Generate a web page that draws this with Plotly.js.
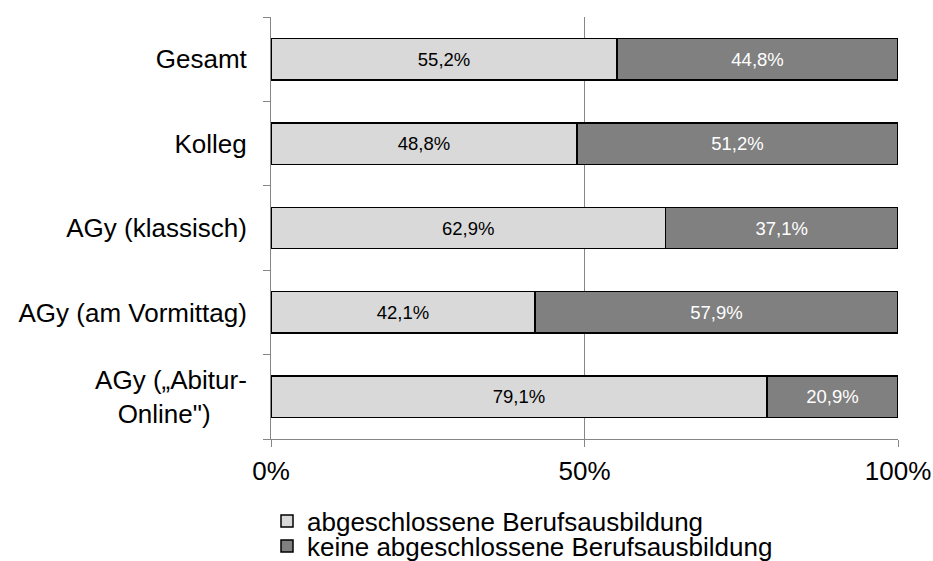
<!DOCTYPE html>
<html><head><meta charset="utf-8">
<script src="https://cdn.plot.ly/plotly-3.0.1.min.js"></script>
<style>html,body{margin:0;padding:0;background:#fff;}#chart{width:933px;height:561px;}</style>
</head><body><div id="chart"></div>
<script>
const categories = ["Gesamt", "Kolleg", "AGy (klassisch)", "AGy (am Vormittag)", "AGy („Abitur-<br>Online\")"];
const seriesNames = ["abgeschlossene Berufsausbildung", "keine abgeschlossene Berufsausbildung"];
const abgeschlossen = [55.2, 48.8, 62.9, 42.1, 79.1];
const keine = [44.8, 51.2, 37.1, 57.9, 20.9];
const xTicks = [0, 50, 100];
const xTickLabels = ["0%", "50%", "100%"];

// display labels: visually centre the second line of wrapped labels
const catLabels = categories.map(c => c.includes('<br>') ? c + '\u00A0\u00A0\u00A0\u00A0\u00A0' : c);

const font = "Liberation Sans, Arial, sans-serif";
const traces = [
  {type:'bar', orientation:'h', name:seriesNames[0], y:categories, x:abgeschlossen, legend:'legend',
   marker:{color:'#D9D9D9', line:{color:'#000', width:1.5}},
   texttemplate:'%{x:.1f}%', textposition:'inside', insidetextanchor:'middle',
   textfont:{family:font, size:18.5, color:'#000'}, hoverinfo:'none'},
  {type:'bar', orientation:'h', name:seriesNames[1], y:categories, x:keine, legend:'legend2',
   marker:{color:'#808080', line:{color:'#000', width:1.5}},
   texttemplate:'%{x:.1f}%', textposition:'inside', insidetextanchor:'middle',
   textfont:{family:font, size:18.5, color:'#fff'}, hoverinfo:'none'}
];
const T = 17, B = 439, L = 271, R = 898, W = 933, H = 561;
const ph = B - T, pw = R - L;
const legX = (267 - L) / pw;
const layout = {
  width:W, height:H, barmode:'stack', bargap:0.51,
  separators:',.',
  paper_bgcolor:'#fff', plot_bgcolor:'#fff',
  font:{family:font, color:'#000', size:26},
  margin:{l:L, r:W-R, t:T, b:H-B, autoexpand:false},
  xaxis:{range:[0,100], tickvals:xTicks, ticktext:xTickLabels, showgrid:true, gridcolor:'#868686', gridwidth:1,
         zeroline:false, showline:true, linecolor:'#868686', linewidth:1, ticks:'outside', ticklen:7, tickcolor:'#868686',
         ticklabelstandoff:2, tickfont:{size:26, family:font}},
  yaxis:{autorange:'reversed', showline:true, linecolor:'#868686', linewidth:1, ticks:'outside', tickson:'boundaries',
         ticklen:7, tickcolor:'#868686', showgrid:false, tickfont:{size:26, family:font}, ticklabelstandoff:18,
         tickmode:'array', tickvals:categories, ticktext:catLabels},
  showlegend:true,
  legend:{x:legX, xanchor:'left', y:(B-521)/ph, yanchor:'middle', font:{size:26, family:font}, bgcolor:'rgba(0,0,0,0)'},
  legend2:{x:legX, xanchor:'left', y:(B-546)/ph, yanchor:'middle', font:{size:26, family:font}, bgcolor:'rgba(0,0,0,0)'}
};
Plotly.newPlot('chart', traces, layout, {staticPlot:true});
</script></body></html>
